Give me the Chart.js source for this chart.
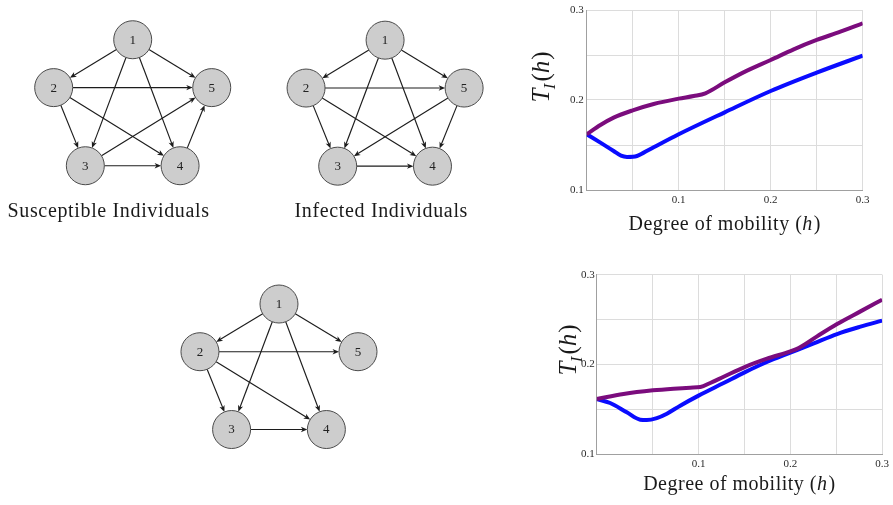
<!DOCTYPE html>
<html><head><meta charset="utf-8">
<script src="https://cdn.jsdelivr.net/npm/chart.js@4"></script>
<style>
html,body{margin:0;padding:0;background:#fff;}
body{width:893px;height:505px;position:relative;overflow:hidden;}
canvas{position:absolute;}
</style></head><body>
<canvas id="net1" width="260" height="250" style="left:0;top:0"></canvas>
<canvas id="net2" width="260" height="250" style="left:260px;top:0"></canvas>
<canvas id="net3" width="260" height="245" style="left:150px;top:260px"></canvas>
<canvas id="chartTop" width="373" height="250" style="left:520px;top:0"></canvas>
<canvas id="chartBottom" width="373" height="245" style="left:520px;top:260px"></canvas>
<script>
// ---------------- DATA ----------------
// graph layout (layout units) for nodes 1..5
const nodeLabels = ['1', '2', '3', '4', '5'];
const nodeX = [0, -93.4, -56, 56, 93.4];
const nodeY = [0, 57, 150, 150, 57];
// directed edges [from, to]
const edgesSusceptible = [[1,2],[1,5],[1,3],[1,4],[2,5],[2,3],[2,4],[3,4],[3,5],[4,5]];
const edgesInfected    = [[1,2],[1,5],[1,3],[1,4],[2,5],[2,3],[2,4],[3,4],[5,3],[5,4]];
const edgesThird       = [[1,2],[1,5],[1,3],[1,4],[2,5],[2,3],[2,4],[3,4]];
const captionSusceptible = 'Susceptible Individuals';
const captionInfected = 'Infected Individuals';

// line charts: degree of mobility h vs T_I(h)
const topPurpleH = [0, 0.0149, 0.0293, 0.05, 0.0728, 0.1, 0.1163, 0.129, 0.15, 0.1743, 0.2, 0.225, 0.25, 0.2757, 0.3];
const topPurpleT = [0.1619, 0.1722, 0.1804, 0.1885, 0.1956, 0.2015, 0.2044, 0.2074, 0.2196, 0.2326, 0.2444, 0.2563, 0.2667, 0.2759, 0.2852];
const topBlueH = [0, 0.0149, 0.0293, 0.0373, 0.0438, 0.0547, 0.062, 0.0728, 0.1, 0.15, 0.2, 0.25, 0.3];
const topBlueT = [0.1619, 0.1526, 0.1433, 0.1381, 0.1367, 0.1378, 0.1415, 0.1474, 0.1619, 0.1863, 0.2100, 0.2304, 0.2493];

const botPurpleH = [-0.011, 0.0182, 0.0502, 0.0727, 0.0909, 0.102, 0.1127, 0.1273, 0.1502, 0.1745, 0.2, 0.2091, 0.2291, 0.2509, 0.2764, 0.3];
const botPurpleT = [0.1613, 0.1669, 0.1710, 0.1729, 0.1740, 0.1747, 0.1792, 0.1862, 0.1970, 0.2063, 0.2145, 0.2182, 0.2312, 0.2450, 0.2591, 0.2721];
const botBlueH = [-0.011, 0.0036, 0.0218, 0.0364, 0.0436, 0.0545, 0.0655, 0.08, 0.1, 0.1273, 0.1502, 0.1745, 0.2, 0.2255, 0.2509, 0.2764, 0.3];
const botBlueT = [0.1613, 0.1569, 0.1465, 0.1383, 0.1379, 0.1401, 0.1450, 0.1539, 0.1651, 0.1792, 0.1911, 0.2026, 0.2130, 0.2234, 0.2338, 0.2420, 0.2487];

const xGridTop = [0, 0.05, 0.1, 0.15, 0.2, 0.25, 0.3];
const xGridBottom = [0.05, 0.1, 0.15, 0.2, 0.25, 0.3];
const yGridValues = [0.1, 0.15, 0.2, 0.25, 0.3];
const xTickLabels = [0.1, 0.2, 0.3];
const yTickLabels = [0.1, 0.2, 0.3];
const xTitle = ['Degree of mobility (', 'h', ')'];
const yTitle = ['T', 'I', '(', 'h', ')'];

// ---------------- NETWORK CHARTS ----------------
const SERIF = '"Liberation Serif", "Times New Roman", serif';
const graphPlugin = {
  id: 'graph',
  beforeDatasetsDraw(chart, args, o) {
    const {ctx, scales: {x, y}} = chart;
    const r = o.radius;
    ctx.save();
    ctx.strokeStyle = '#1c1c1c';
    ctx.fillStyle = '#1c1c1c';
    ctx.lineWidth = 1.15;
    o.edges.forEach(([a, b]) => {
      const x1 = x.getPixelForValue(nodeX[a-1]), y1 = y.getPixelForValue(nodeY[a-1]);
      const x2 = x.getPixelForValue(nodeX[b-1]), y2 = y.getPixelForValue(nodeY[b-1]);
      const dx = x2 - x1, dy = y2 - y1, L = Math.hypot(dx, dy);
      const ux = dx / L, uy = dy / L;
      const sx = x1 + ux * r, sy = y1 + uy * r;
      const ex = x2 - ux * r, ey = y2 - uy * r;
      const ah = 6.5, aw = 2.7;
      const bx = ex - ux * ah, by = ey - uy * ah;
      ctx.beginPath();
      ctx.moveTo(sx, sy);
      ctx.lineTo(ex - ux * 3, ey - uy * 3);
      ctx.stroke();
      ctx.beginPath();
      ctx.moveTo(ex, ey);
      ctx.lineTo(bx - uy * aw, by + ux * aw);
      ctx.lineTo(ex - ux * ah * 0.72, ey - uy * ah * 0.72);
      ctx.lineTo(bx + uy * aw, by - ux * aw);
      ctx.closePath();
      ctx.fill();
    });
    ctx.restore();
  },
  afterDatasetsDraw(chart, args, o) {
    const {ctx, scales: {x, y}} = chart;
    ctx.save();
    ctx.fillStyle = '#222';
    ctx.font = '13px ' + SERIF;
    ctx.textAlign = 'center';
    ctx.textBaseline = 'middle';
    nodeLabels.forEach((t, i) => {
      ctx.fillText(t, x.getPixelForValue(nodeX[i]), y.getPixelForValue(nodeY[i]) + 0.5);
    });
    if (o.caption) {
      ctx.font = '20px ' + SERIF;
      ctx.letterSpacing = '0.65px';
      ctx.textBaseline = 'alphabetic';
      ctx.fillStyle = '#1a1a1a';
      ctx.fillText(o.caption, x.getPixelForValue(o.capX), y.getPixelForValue(o.capY));
    }
    ctx.restore();
  }
};

function netChart(id, edges, caption, view) {
  return new Chart(document.getElementById(id), {
    type: 'scatter',
    data: {datasets: [{
      data: nodeX.map((v, i) => ({x: v, y: nodeY[i]})),
      pointRadius: 19, pointHoverRadius: 19,
      backgroundColor: '#cdcdcd', borderColor: '#4a4a4a', borderWidth: 1,
      clip: false
    }]},
    options: {
      responsive: false, animation: false, events: [],
      layout: {padding: 0},
      plugins: {
        legend: {display: false}, tooltip: {enabled: false},
        graph: {edges, caption, radius: 19, capX: view.capX, capY: view.capY}
      },
      scales: {
        x: {type: 'linear', display: false, min: view.xMin, max: view.xMin + view.w},
        y: {type: 'linear', display: false, reverse: true, min: view.yMin, max: view.yMin + view.h}
      }
    },
    plugins: [graphPlugin]
  });
}

netChart('net1', edgesSusceptible, captionSusceptible, {xMin: -133.2, w: 260, yMin: -23.5, h: 250, capX: -28.5, capY: 210.7});
netChart('net2', edgesInfected, captionInfected, {xMin: -124.2, w: 260, yMin: -24, h: 250, capX: -4.5, capY: 210.2});
netChart('net3', edgesThird, '', {xMin: -128.8, w: 260, yMin: -28.7, h: 245, capX: 0, capY: 0});

// ---------------- LINE CHARTS ----------------
function drawParts(ctx, parts, styles, sizes, shifts, gaps, x0, y0) {
  let xx = x0;
  parts.forEach((p, i) => {
    ctx.font = styles[i] + ' ' + sizes[i] + 'px ' + SERIF;
    xx += gaps[i];
    ctx.fillText(p, xx, y0 + shifts[i]);
    xx += ctx.measureText(p).width;
  });
  return xx - x0;
}
function measureParts(ctx, parts, styles, sizes, gaps) {
  let w = 0;
  parts.forEach((p, i) => { ctx.font = styles[i] + ' ' + sizes[i] + 'px ' + SERIF; w += ctx.measureText(p).width + gaps[i]; });
  return w;
}

const axisTitlePlugin = {
  id: 'axisTitles',
  afterDraw(chart, args, o) {
    const {ctx, chartArea: a} = chart;
    ctx.save();
    ctx.fillStyle = '#1a1a1a';
    ctx.textAlign = 'left';
    ctx.textBaseline = 'alphabetic';
    // x title
    ctx.letterSpacing = '0.5px';
    const xs = ['normal', 'italic', 'normal'], xz = [20, 20, 20], xsh = [0, 0, 0], xg = [0, 0, 1];
    const wx = measureParts(ctx, xTitle, xs, xz, xg);
    drawParts(ctx, xTitle, xs, xz, xsh, xg, (a.left + a.right) / 2 - wx / 2, a.bottom + o.xTitleDy);
    // y title (rotated)
    ctx.letterSpacing = '0px';
    const ys = ['italic', 'italic', 'normal', 'italic', 'normal'], yz = [25, 17, 25, 25, 25],
          ysh = [0, 6, 0, 0, 0], yg = [0, -0.5, 2, 0, 1];
    const wy = measureParts(ctx, yTitle, ys, yz, yg);
    ctx.translate(a.left - o.yTitleDx, a.top + o.yTitleDy);
    ctx.rotate(-Math.PI / 2);
    drawParts(ctx, yTitle, ys, yz, ysh, yg, -wy / 2, 0);
    ctx.restore();
  }
};

function lineChart(id, purpleH, purpleT, blueH, blueT, xGrid, g) {
  const tickFont = {family: SERIF, size: 11};
  const near = (v, arr) => arr.some(t => Math.abs(t - v) < 1e-6);
  return new Chart(document.getElementById(id), {
    type: 'line',
    data: {datasets: [
      {data: purpleH.map((h, i) => ({x: h, y: purpleT[i]})), borderColor: '#7b0c7d', borderWidth: 4,
       pointRadius: 0, cubicInterpolationMode: 'monotone', fill: false},
      {data: blueH.map((h, i) => ({x: h, y: blueT[i]})), borderColor: '#0a0cff', borderWidth: 4,
       pointRadius: 0, cubicInterpolationMode: 'monotone', fill: false}
    ]},
    options: {
      responsive: false, animation: false, events: [],
      layout: {padding: {left: 0, right: g.padR, top: g.padT, bottom: 0}},
      plugins: {legend: {display: false}, tooltip: {enabled: false},
        axisTitles: {xTitleDy: g.xTitleDy, yTitleDx: g.yTitleDx, yTitleDy: g.yTitleDy}},
      scales: {
        x: {type: 'linear', min: g.xMin, max: 0.3,
          afterBuildTicks: s => { s.ticks = xGrid.map(v => ({value: v})); },
          afterFit: s => { s.height = g.xAxisH; },
          grid: {color: '#dcdcdc', lineWidth: 1, drawTicks: false},
          border: {color: '#a0a0a0', width: 1},
          ticks: {padding: g.xTickPad, font: tickFont, color: '#2a2a2a', maxRotation: 0, minRotation: 0, autoSkip: false,
            callback: v => near(v, xTickLabels) ? v.toFixed(1) : ''}
        },
        y: {type: 'linear', min: 0.1, max: 0.3,
          afterBuildTicks: s => { s.ticks = yGridValues.map(v => ({value: v})); },
          afterFit: s => { s.width = g.yAxisW; },
          grid: {color: '#dcdcdc', lineWidth: 1, drawTicks: false},
          border: {color: '#a0a0a0', width: 1},
          ticks: {padding: g.yTickPad, font: tickFont, color: '#2a2a2a', autoSkip: false,
            callback: v => near(v, yTickLabels) ? v.toFixed(1) : ''}
        }
      }
    },
    plugins: [axisTitlePlugin]
  });
}

lineChart('chartTop', topPurpleH, topPurpleT, topBlueH, topBlueT, xGridTop,
  {xMin: 0, padR: 30.3, padT: 10, yAxisW: 66.7, xAxisH: 60, xTickPad: 4, yTickPad: 3,
   xTitleDy: 40, yTitleDx: 37.4, yTitleDy: 67});
lineChart('chartBottom', botPurpleH, botPurpleT, botBlueH, botBlueT, xGridBottom,
  {xMin: -0.011, padR: 10.3, padT: 14.7, yAxisW: 76.7, xAxisH: 51, xTickPad: 4, yTickPad: 2,
   xTitleDy: 36, yTitleDx: 21, yTitleDy: 75.3});
</script>
</body></html>
